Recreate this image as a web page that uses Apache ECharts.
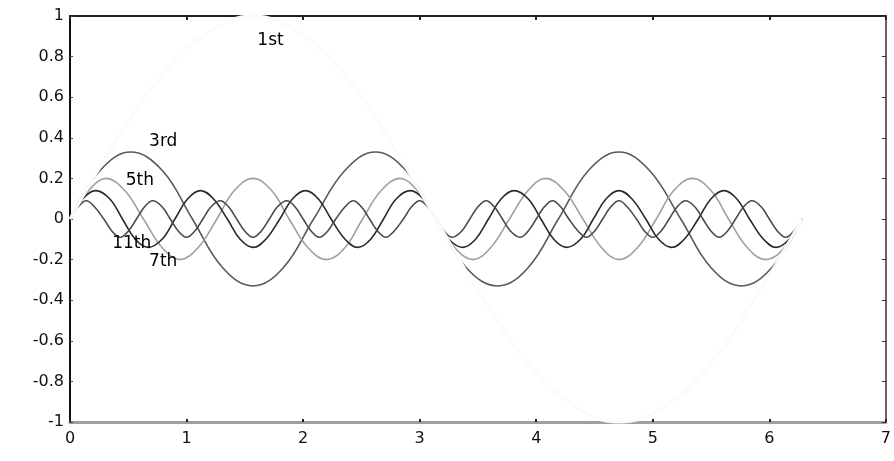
<!DOCTYPE html>
<html><head><meta charset="utf-8">
<script src="https://cdn.jsdelivr.net/npm/echarts@6/dist/echarts.min.js"></script>
<style>html,body{margin:0;padding:0;background:#fff}#c{width:894px;height:461px}</style>
</head><body><div id="c"></div><script>
// x range and y range of the plot
const xMin = 0, xMax = 7, xStep = 1;
const yMin = -1, yMax = 1, yStep = 0.2;

// 1st harmonic (barely visible in the scan)
const h1 = [[0,0],[0.39,0.38],[0.79,0.71],[1.18,0.92],[1.57,1],[1.96,0.92],[2.36,0.71],[2.75,0.38],[3.14,0],
  [3.53,-0.38],[3.93,-0.71],[4.32,-0.92],[4.71,-1],[5.11,-0.92],[5.50,-0.71],[5.89,-0.38],[6.28,0]];

// 3rd harmonic
const h3 = [[0,0],[0.26,0.24],[0.52,0.33],[0.79,0.24],[1.05,0],[1.31,-0.24],[1.57,-0.33],[1.83,-0.24],[2.09,0],
  [2.36,0.24],[2.62,0.33],[2.88,0.24],[3.14,0],[3.40,-0.24],[3.67,-0.33],[3.93,-0.24],[4.19,0],[4.45,0.24],
  [4.71,0.33],[4.97,0.24],[5.24,0],[5.50,-0.24],[5.76,-0.33],[6.02,-0.24],[6.28,0]];

// 5th harmonic
const h5 = [[0,0],[0.16,0.14],[0.31,0.2],[0.47,0.14],[0.63,0],[0.79,-0.14],[0.94,-0.2],[1.10,-0.14],[1.26,0],
  [1.41,0.14],[1.57,0.2],[1.73,0.14],[1.88,0],[2.04,-0.14],[2.20,-0.2],[2.36,-0.14],[2.51,0],[2.67,0.14],
  [2.83,0.2],[2.98,0.14],[3.14,0],[3.30,-0.14],[3.46,-0.2],[3.61,-0.14],[3.77,0],[3.93,0.14],[4.08,0.2],
  [4.24,0.14],[4.40,0],[4.56,-0.14],[4.71,-0.2],[4.87,-0.14],[5.03,0],[5.18,0.14],[5.34,0.2],[5.50,0.14],
  [5.65,0],[5.81,-0.14],[5.97,-0.2],[6.13,-0.14],[6.28,0]];

// 7th harmonic
const h7 = [[0,0],[0.11,0.10],[0.22,0.14],[0.34,0.10],[0.45,0],[0.56,-0.10],[0.67,-0.14],[0.79,-0.10],
  [0.90,0],[1.01,0.10],[1.12,0.14],[1.23,0.10],[1.35,0],[1.46,-0.10],[1.57,-0.14],[1.68,-0.10],
  [1.80,0],[1.91,0.10],[2.02,0.14],[2.13,0.10],[2.24,0],[2.36,-0.10],[2.47,-0.14],[2.58,-0.10],
  [2.69,0],[2.80,0.10],[2.92,0.14],[3.03,0.10],[3.14,0],[3.25,-0.10],[3.37,-0.14],[3.48,-0.10],
  [3.59,0],[3.70,0.10],[3.81,0.14],[3.93,0.10],[4.04,0],[4.15,-0.10],[4.26,-0.14],[4.38,-0.10],
  [4.49,0],[4.60,0.10],[4.71,0.14],[4.82,0.10],[4.94,0],[5.05,-0.10],[5.16,-0.14],[5.27,-0.10],
  [5.39,0],[5.50,0.10],[5.61,0.14],[5.72,0.10],[5.83,0],[5.95,-0.10],[6.06,-0.14],[6.17,-0.10],[6.28,0]];

// 11th harmonic
const h11 = [[0,0],[0.07,0.06],[0.14,0.09],[0.21,0.06],[0.29,0],[0.36,-0.06],[0.43,-0.09],[0.50,-0.06],
  [0.57,0],[0.64,0.06],[0.71,0.09],[0.79,0.06],[0.86,0],[0.93,-0.06],[1.00,-0.09],[1.07,-0.06],
  [1.14,0],[1.21,0.06],[1.29,0.09],[1.36,0.06],[1.43,0],[1.50,-0.06],[1.57,-0.09],[1.64,-0.06],
  [1.71,0],[1.78,0.06],[1.86,0.09],[1.93,0.06],[2.00,0],[2.07,-0.06],[2.14,-0.09],[2.21,-0.06],
  [2.28,0],[2.36,0.06],[2.43,0.09],[2.50,0.06],[2.57,0],[2.64,-0.06],[2.71,-0.09],[2.78,-0.06],
  [2.86,0],[2.93,0.06],[3.00,0.09],[3.07,0.06],[3.14,0],[3.21,-0.06],[3.28,-0.09],[3.36,-0.06],
  [3.43,0],[3.50,0.06],[3.57,0.09],[3.64,0.06],[3.71,0],[3.78,-0.06],[3.86,-0.09],[3.93,-0.06],
  [4.00,0],[4.07,0.06],[4.14,0.09],[4.21,0.06],[4.28,0],[4.36,-0.06],[4.43,-0.09],[4.50,-0.06],
  [4.57,0],[4.64,0.06],[4.71,0.09],[4.78,0.06],[4.86,0],[4.93,-0.06],[5.00,-0.09],[5.07,-0.06],
  [5.14,0],[5.21,0.06],[5.28,0.09],[5.36,0.06],[5.43,0],[5.50,-0.06],[5.57,-0.09],[5.64,-0.06],
  [5.71,0],[5.78,0.06],[5.85,0.09],[5.93,0.06],[6.00,0],[6.07,-0.06],[6.14,-0.09],[6.21,-0.06],[6.28,0]];

// curve annotations: text and anchor in data coordinates
const labelText = ['1st', '3rd', '5th', '11th', '7th'];
const labelAt = [[1.72, 0.88], [0.80, 0.38], [0.60, 0.19], [0.53, -0.12], [0.80, -0.21]];

const chart = echarts.init(document.getElementById('c'), null, {renderer: 'canvas'});
const font = 'DejaVu Sans';
const baseX = {type: 'value', min: xMin, max: xMax, interval: xStep, splitLine: {show: false}};
const baseY = {type: 'value', min: yMin, max: yMax, interval: yStep, splitLine: {show: false}};

function line(name, data, color, width, extra) {
  return Object.assign({
    name, type: 'line', data, smooth: 0.4, showSymbol: false, symbol: 'none',
    lineStyle: {color, width}, z: 3, silent: true
  }, extra || {});
}

chart.setOption({
  animation: false,
  backgroundColor: '#ffffff',
  grid: {left: 70, right: 2, top: 16, bottom: 39, containLabel: false},
  xAxis: [
    Object.assign({}, baseX, {
      position: 'bottom',
      axisLine: {show: true, onZero: false, lineStyle: {color: '#a0a0a0', width: 3}},
      axisTick: {show: true, inside: true, length: 3, lineStyle: {color: '#222', width: 2}},
      axisLabel: {show: true, margin: 9, fontFamily: font, fontSize: 16, color: '#111'}
    }),
    Object.assign({}, baseX, {
      position: 'top',
      axisLine: {show: true, onZero: false, lineStyle: {color: '#222', width: 2}},
      axisTick: {show: true, inside: true, length: 4, lineStyle: {color: '#222', width: 2}},
      axisLabel: {show: false}
    })
  ],
  yAxis: [
    Object.assign({}, baseY, {
      position: 'left',
      axisLine: {show: true, onZero: false, lineStyle: {color: '#111', width: 2}},
      axisTick: {show: true, inside: true, length: 3, lineStyle: {color: '#444', width: 1}},
      axisLabel: {show: true, margin: 6, fontFamily: font, fontSize: 16, color: '#111'}
    }),
    Object.assign({}, baseY, {
      position: 'right',
      axisLine: {show: true, onZero: false, lineStyle: {color: '#333', width: 1.5}},
      axisTick: {show: true, inside: true, length: 4, lineStyle: {color: '#333', width: 1}},
      axisLabel: {show: false}
    })
  ],
  series: [
    line('1st', h1, '#fbfbfb', 3, {clip: false, z: 5}),
    line('3rd', h3, '#5a5a5a', 1.6),
    line('5th', h5, '#a0a0a0', 1.6),
    line('7th', h7, '#2a2a2a', 1.6),
    line('11th', h11, '#4a4a4a', 1.6),
    {
      name: 'labels', type: 'scatter', symbolSize: 0, silent: true, z: 6,
      itemStyle: {color: '#000'},
      data: labelAt.map((p, i) => ({value: p, name: labelText[i]})),
      label: {show: true, position: 'inside', formatter: p => p.name,
        fontFamily: font, fontSize: 17, color: '#000', opacity: 1}
    }
  ]
});
</script></body></html>
